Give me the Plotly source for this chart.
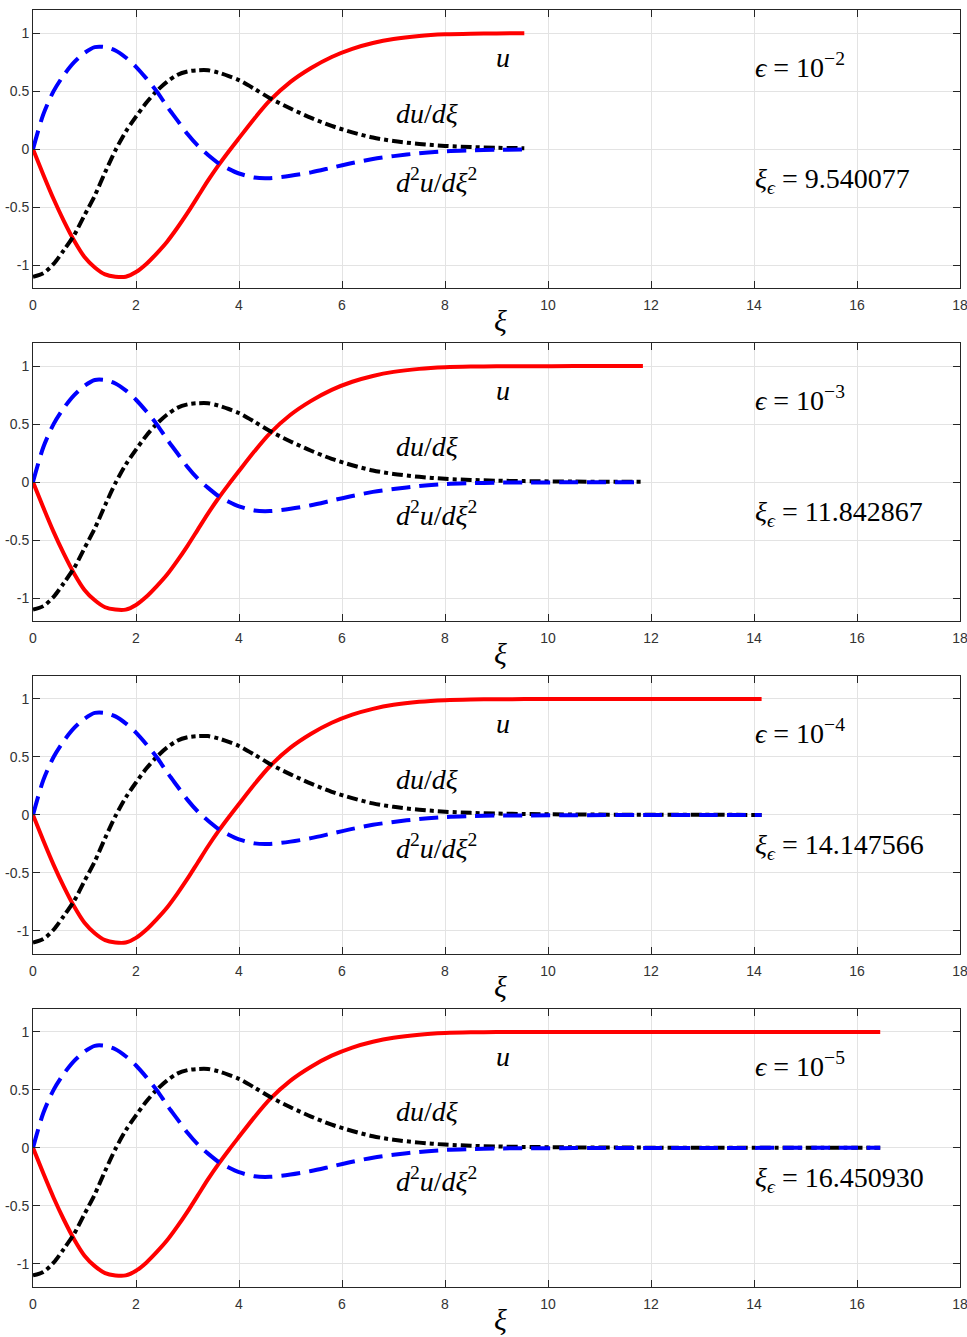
import plotly.graph_objects as go
from plotly.subplots import make_subplots

xi = [0, 0.2, 0.4, 0.6, 0.8, 1.0, 1.2, 1.4, 1.6, 1.8, 2.0, 2.2, 2.4, 2.6, 2.8,
      3.0, 3.2, 3.4, 3.6, 3.8, 4.0, 4.3, 4.6, 5.0, 5.4, 5.8, 6.2, 6.6, 7.0,
      7.5, 8.0, 8.5, 9.0, 9.540077, 10.5, 11.842867, 13.0, 14.147566, 15.3,
      16.450930]
u = [0, -0.22, -0.43, -0.62, -0.79, -0.93, -1.02, -1.08, -1.10, -1.10, -1.06,
     -0.99, -0.90, -0.80, -0.68, -0.55, -0.41, -0.27, -0.14, -0.02, 0.095,
     0.265, 0.42, 0.58, 0.70, 0.795, 0.865, 0.915, 0.95, 0.976, 0.99, 0.996,
     0.998, 0.999, 1.0, 1.0, 1.0, 1.0, 1.0, 1.0]
du = [-1.10, -1.07, -0.99, -0.87, -0.74, -0.57, -0.40, -0.20, -0.01, 0.15,
      0.28, 0.40, 0.50, 0.58, 0.64, 0.67, 0.68, 0.68, 0.66, 0.63, 0.595,
      0.52, 0.44, 0.35, 0.27, 0.20, 0.145, 0.10, 0.07, 0.045, 0.028, 0.018,
      0.012, 0.008, 0.004, 0.002, 0.001, 0.0005, 0.0002, 0.0001]
d2u = [0, 0.30, 0.50, 0.64, 0.75, 0.83, 0.88, 0.88, 0.85, 0.79, 0.71, 0.61,
       0.50, 0.37, 0.25, 0.13, 0.03, -0.05, -0.12, -0.17, -0.21, -0.245,
       -0.25, -0.23, -0.20, -0.16, -0.12, -0.085, -0.06, -0.035, -0.018,
       -0.01, -0.005, -0.004, -0.002, -0.001, -0.0005, -0.0002, -0.0001, 0]

eps_exp = [2, 3, 4, 5]
xi_eps = [9.540077, 11.842867, 14.147566, 16.450930]
xi_eps_text = ["9.540077", "11.842867", "14.147566", "16.450930"]

ytick_vals = [-1, -0.5, 0, 0.5, 1]
ytick_text = ["-1", "-0.5", "0", "0.5", "1"]
xtick_vals = [0, 2, 4, 6, 8, 10, 12, 14, 16, 18]

serif = "Liberation Serif, DejaVu Serif, serif"
tickfont = dict(family="Liberation Sans Narrow, Arial Narrow, Liberation Sans, Arial",
                size=14, color="#333333")

fig = make_subplots(rows=4, cols=1, vertical_spacing=0.04276)

for k in range(4):
    row = k + 1
    n = xi.index(xi_eps[k]) + 1
    fig.add_trace(go.Scatter(x=xi[:n], y=u[:n], mode="lines",
                             line=dict(color="#ff0000", width=4, shape="spline",
                                       smoothing=0.8)), row=row, col=1)
    fig.add_trace(go.Scatter(x=xi[:n], y=du[:n], mode="lines",
                             line=dict(color="#000000", width=4, shape="spline",
                                       smoothing=0.8, dash="11px,4px,4px,4px")),
                  row=row, col=1)
    fig.add_trace(go.Scatter(x=xi[:n], y=d2u[:n], mode="lines",
                             line=dict(color="#0000ff", width=4, shape="spline",
                                       smoothing=0.8, dash="19px,9px")),
                  row=row, col=1)

    xr, yr = f"x{row}" if row > 1 else "x", f"y{row}" if row > 1 else "y"
    ann = dict(xref=xr, yref=yr, showarrow=False,
               font=dict(family=serif, size=28, color="black"))
    fig.add_annotation(x=9.13, y=0.79, text="<i>u</i>", xanchor="center", **ann)
    fig.add_annotation(x=7.0, y=0.31, text="<i>du</i>/<i>dξ</i>", xanchor="left", **ann)
    fig.add_annotation(x=7.0, y=-0.27,
                       text="<i>d</i><sup>2</sup><i>u</i>/<i>dξ</i><sup>2</sup>",
                       xanchor="left", **ann)
    fig.add_annotation(x=13.98, y=0.72,
                       text=f"<i>ϵ</i> = 10<sup>−{eps_exp[k]}</sup>",
                       xanchor="left", **ann)
    fig.add_annotation(x=13.98, y=-0.27,
                       text=f"<i>ξ</i><sub><i>ϵ</i></sub> = {xi_eps_text[k]}",
                       xanchor="left", **ann)
    # axis label
    fig.add_annotation(xref=f"{xr} domain", yref=f"{yr} domain", x=0.5, y=0,
                       yshift=-32, xshift=4, yanchor="middle", showarrow=False,
                       text="<i>ξ</i>", font=dict(family=serif, size=30, color="black"))

    fig.update_xaxes(range=[0, 18], tickvals=xtick_vals, ticks="inside", ticklen=7,
                     showline=True, mirror="ticks", linecolor="#262626", linewidth=1,
                     tickcolor="#262626", showgrid=True, gridcolor="#e3e3e3",
                     zeroline=False, tickfont=tickfont, automargin=False,
                     ticklabeloverflow="allow", ticklabelstandoff=4, row=row, col=1)
    fig.update_yaxes(range=[-1.2, 1.2], tickvals=ytick_vals, ticktext=ytick_text,
                     ticks="inside", ticklen=7, showline=True, mirror="ticks",
                     linecolor="#262626", linewidth=1, tickcolor="#262626",
                     showgrid=True, gridcolor="#e3e3e3", zeroline=False,
                     tickfont=tickfont, automargin=False, ticklabeloverflow="allow",
                     row=row, col=1)

fig.update_layout(width=967, height=1337, showlegend=False,
                  plot_bgcolor="white", paper_bgcolor="white",
                  margin=dict(l=33, r=7, t=10, b=50))

# drop the default 8px page margin so the figure sits in the corner
fig.write_html("out.html", config={"displayModeBar": False},
               post_script="document.body.style.margin='0px';")
